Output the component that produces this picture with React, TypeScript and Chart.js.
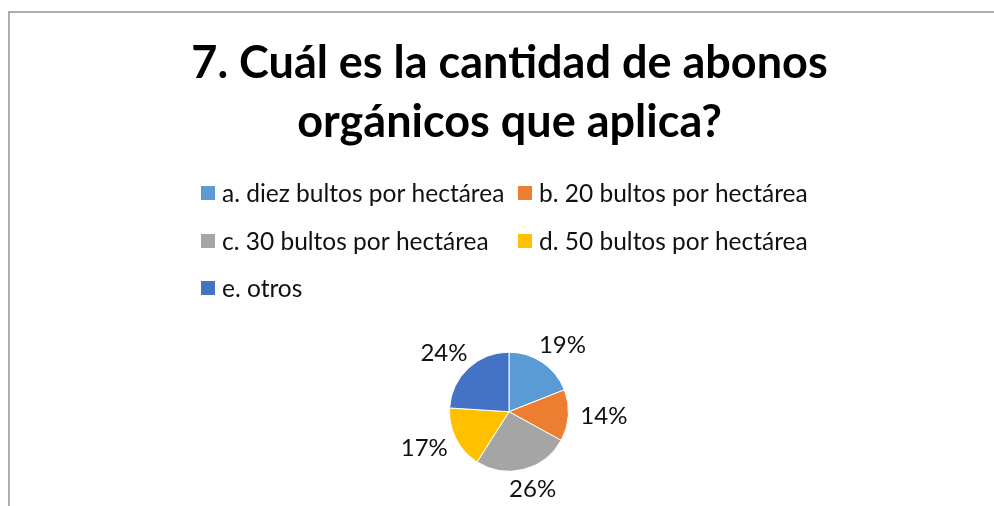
import React, { useEffect, useRef } from "react";
import { Chart, registerables } from "chart.js";

Chart.register(...registerables);

const titleLines = ["7. Cuál es la cantidad de abonos", "orgánicos que aplica?"];
const categories = [
  "a. diez bultos por hectárea",
  "b. 20 bultos por hectárea",
  "c. 30 bultos por hectárea",
  "d. 50 bultos por hectárea",
  "e. otros",
];
const values = [19, 14, 26, 17, 24];
const colors = ["#5B9BD5", "#ED7D31", "#A5A5A5", "#FFC000", "#4472C4"];

const FONT = "Lato, 'Open Sans', sans-serif";

const overlayPlugin = {
  id: "overlay",
  afterDraw(chart: any) {
    const ctx = chart.ctx as CanvasRenderingContext2D;
    const w = chart.width;
    ctx.save();
    // title
    ctx.fillStyle = "#000";
    ctx.textAlign = "center";
    ctx.textBaseline = "alphabetic";
    ctx.font = `bold 45px ${FONT}`;
    ctx.fillText(titleLines[0], w / 2, 65);
    ctx.fillText(titleLines[1], w / 2, 124);

    // legend grid
    const rowY = [180, 228, 275];
    const colX = [191, 508];
    ctx.font = `24.5px ${FONT}`;
    ctx.textAlign = "left";
    ctx.textBaseline = "middle";
    categories.forEach((label, i) => {
      const r = Math.floor(i / 2);
      const c = i % 2;
      const x = colX[c];
      const y = rowY[r];
      ctx.fillStyle = colors[i];
      ctx.fillRect(x, y - 7, 14, 14);
      ctx.fillStyle = "#111";
      ctx.fillText(label, x + 21, y + 1);
    });

    // data labels (outside end, box-aware)
    const meta = chart.getDatasetMeta(0);
    const total = values.reduce((a, b) => a + b, 0);
    ctx.font = `24px ${FONT}`;
    ctx.textAlign = "center";
    ctx.textBaseline = "middle";
    ctx.fillStyle = "#111";
    meta.data.forEach((arc: any, i: number) => {
      const text = `${Math.round((values[i] / total) * 100)}%`;
      const tw = ctx.measureText(text).width;
      const th = 18;
      const mid = (arc.startAngle + arc.endAngle) / 2;
      const dx = Math.cos(mid);
      const dy = Math.sin(mid);
      const rad = arc.outerRadius + 12;
      const x = arc.x + dx * rad + dx * (tw / 2);
      const y = arc.y + dy * rad + dy * (th / 2);
      ctx.fillText(text, x, y);
    });
    ctx.restore();
  },
};

export default function App() {
  const ref = useRef<HTMLCanvasElement>(null);
  useEffect(() => {
    if (!ref.current) return;
    const chart = new Chart(ref.current, {
      type: "pie",
      data: {
        labels: categories,
        datasets: [
          {
            data: values,
            backgroundColor: colors,
            borderColor: "#ffffff",
            borderWidth: 1,
          },
        ],
      },
      options: {
        animation: false,
        responsive: false,
        maintainAspectRatio: false,
        layout: { padding: { top: 338.7, bottom: 101.3, left: 300, right: 301 } },
        plugins: {
          legend: { display: false },
          title: { display: false },
          tooltip: { enabled: false },
        },
      },
      plugins: [overlayPlugin],
    });
    return () => chart.destroy();
  }, []);

  return (
    <div
      style={{
        position: "fixed",
        left: 0,
        top: 0,
        width: 994,
        height: 506,
        overflow: "hidden",
        background: "#fff",
      }}
    >
      <div
        style={{
          position: "absolute",
          left: 8,
          top: 11,
          width: 999,
          height: 560,
          border: "2px solid #ADADAD",
          background: "#fff",
        }}
      >
        <canvas ref={ref} width={999} height={560} style={{ display: "block", width: 999, height: 560 }} />
      </div>
    </div>
  );
}
